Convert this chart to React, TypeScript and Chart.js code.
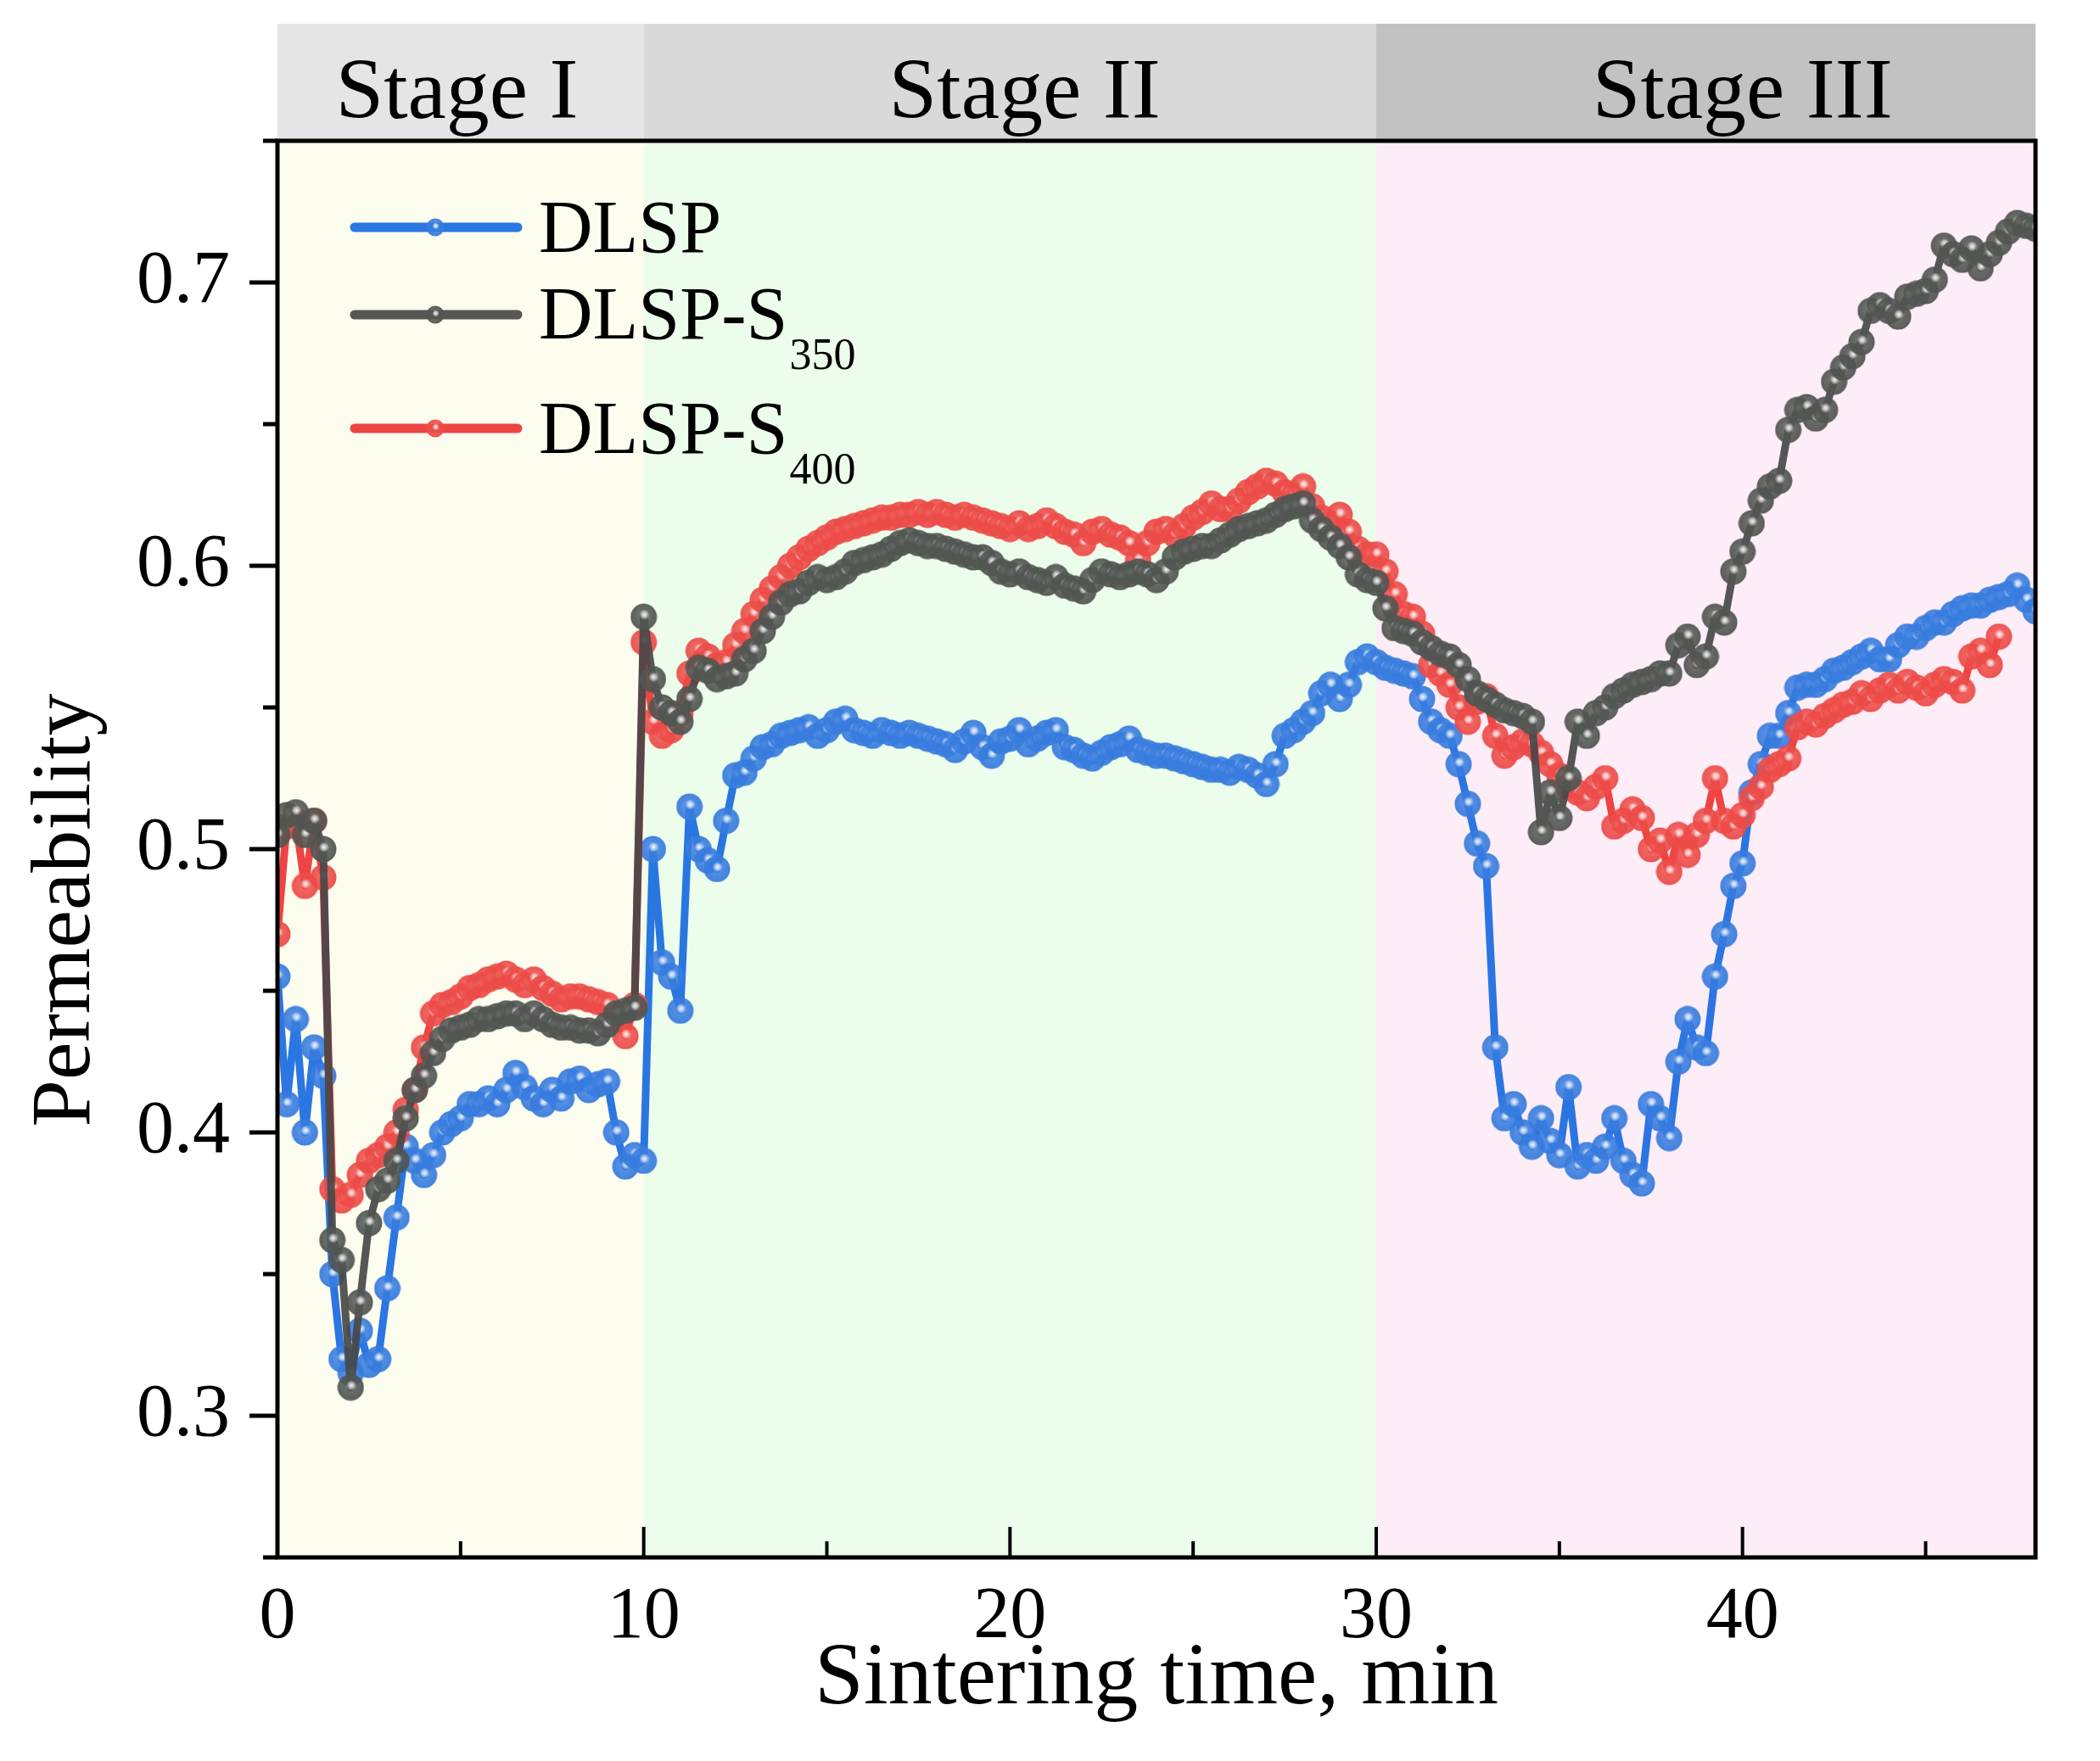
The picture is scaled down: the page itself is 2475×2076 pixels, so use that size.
import { useEffect, useRef } from 'react';
import { Chart, registerables } from 'chart.js';

Chart.register(...registerables);

// sampling times, min
const times = [
  0, 0.25, 0.5, 0.75, 1, 1.25, 1.5, 1.75, 2, 2.25, 2.5, 2.75,
  3, 3.25, 3.5, 3.75, 4, 4.25, 4.5, 4.75, 5, 5.25, 5.5, 5.75,
  6, 6.25, 6.5, 6.75, 7, 7.25, 7.5, 7.75, 8, 8.25, 8.5, 8.75,
  9, 9.25, 9.5, 9.75, 10, 10.25, 10.5, 10.75, 11, 11.25, 11.5, 11.75,
  12, 12.25, 12.5, 12.75, 13, 13.25, 13.5, 13.75, 14, 14.25, 14.5, 14.75,
  15, 15.25, 15.5, 15.75, 16, 16.25, 16.5, 16.75, 17, 17.25, 17.5, 17.75,
  18, 18.25, 18.5, 18.75, 19, 19.25, 19.5, 19.75, 20, 20.25, 20.5, 20.75,
  21, 21.25, 21.5, 21.75, 22, 22.25, 22.5, 22.75, 23, 23.25, 23.5, 23.75,
  24, 24.25, 24.5, 24.75, 25, 25.25, 25.5, 25.75, 26, 26.25, 26.5, 26.75,
  27, 27.25, 27.5, 27.75, 28, 28.25, 28.5, 28.75, 29, 29.25, 29.5, 29.75,
  30, 30.25, 30.5, 30.75, 31, 31.25, 31.5, 31.75, 32, 32.25, 32.5, 32.75,
  33, 33.25, 33.5, 33.75, 34, 34.25, 34.5, 34.75, 35, 35.25, 35.5, 35.75,
  36, 36.25, 36.5, 36.75, 37, 37.25, 37.5, 37.75, 38, 38.25, 38.5, 38.75,
  39, 39.25, 39.5, 39.75, 40, 40.25, 40.5, 40.75, 41, 41.25, 41.5, 41.75,
  42, 42.25, 42.5, 42.75, 43, 43.25, 43.5, 43.75, 44, 44.25, 44.5, 44.75,
  45, 45.25, 45.5, 45.75, 46, 46.25, 46.5, 46.75, 47, 47.25, 47.5, 47.75,
  48,
];

const dlsp = [
  0.455, 0.41, 0.44, 0.4, 0.43, 0.42, 0.35, 0.32, 0.315, 0.33, 0.318, 0.32,
  0.345, 0.37, 0.395, 0.39, 0.385, 0.392, 0.4, 0.403, 0.405, 0.41, 0.41, 0.412,
  0.41, 0.415, 0.421, 0.416, 0.412, 0.41, 0.415, 0.412, 0.418, 0.419, 0.415, 0.417,
  0.418, 0.4, 0.388, 0.392, 0.39, 0.5, 0.46, 0.455, 0.443, 0.515, 0.5, 0.496,
  0.493, 0.51, 0.526, 0.527, 0.532, 0.536, 0.537, 0.54, 0.541, 0.542, 0.543, 0.54,
  0.542, 0.545, 0.546, 0.542, 0.541, 0.54, 0.542, 0.541, 0.54, 0.541, 0.54, 0.539,
  0.538, 0.537, 0.535, 0.538, 0.541, 0.536, 0.533, 0.538, 0.539, 0.542, 0.537, 0.539,
  0.541, 0.542, 0.536, 0.535, 0.533, 0.532, 0.534, 0.536, 0.537, 0.539, 0.535, 0.534,
  0.533, 0.533, 0.532, 0.531, 0.53, 0.529, 0.528, 0.528, 0.527, 0.529, 0.528, 0.526,
  0.523, 0.53, 0.54, 0.542, 0.545, 0.548, 0.555, 0.558, 0.553, 0.558, 0.566, 0.568,
  0.566, 0.564, 0.563, 0.562, 0.561, 0.553, 0.545, 0.542, 0.54, 0.53, 0.516, 0.502,
  0.494, 0.43, 0.405, 0.41, 0.4, 0.395, 0.405, 0.397, 0.392, 0.416, 0.388, 0.392,
  0.39, 0.395, 0.405, 0.39, 0.385, 0.382, 0.41, 0.405, 0.398, 0.425, 0.44, 0.43,
  0.428, 0.455, 0.47, 0.487, 0.495, 0.52, 0.53, 0.54, 0.54, 0.548, 0.557, 0.558,
  0.558, 0.56, 0.563, 0.564, 0.566, 0.568, 0.57, 0.567, 0.567, 0.572, 0.575, 0.575,
  0.578, 0.58, 0.58, 0.583, 0.585, 0.586, 0.586, 0.588, 0.589, 0.59, 0.593, 0.588,
  0.584,
];

const dlspS350 = [
  0.505, 0.512, 0.513, 0.505, 0.51, 0.5, 0.362, 0.355, 0.31, 0.34, 0.368, 0.38,
  0.383, 0.39, 0.405, 0.415, 0.42, 0.428, 0.433, 0.436, 0.437, 0.438, 0.44, 0.44,
  0.441, 0.442, 0.442, 0.44, 0.442, 0.44, 0.438, 0.437, 0.437, 0.436, 0.436, 0.435,
  0.438, 0.442, 0.443, 0.444, 0.582, 0.56, 0.55, 0.548, 0.545, 0.553, 0.564, 0.563,
  0.56, 0.561, 0.562, 0.567, 0.57, 0.577, 0.582, 0.587, 0.59, 0.591, 0.594, 0.596,
  0.595, 0.596, 0.598, 0.601, 0.602, 0.603, 0.604, 0.606, 0.608, 0.609, 0.608, 0.607,
  0.607, 0.606, 0.605, 0.604, 0.603, 0.603, 0.601, 0.598, 0.597, 0.598, 0.596, 0.595,
  0.594, 0.596, 0.593, 0.592, 0.591, 0.595, 0.598, 0.597, 0.596, 0.597, 0.598, 0.597,
  0.595, 0.598, 0.603, 0.605, 0.606, 0.607, 0.607, 0.609, 0.611, 0.613, 0.614, 0.615,
  0.616, 0.618, 0.62, 0.621, 0.622, 0.616, 0.613, 0.61, 0.607, 0.603, 0.597, 0.595,
  0.594, 0.585, 0.578, 0.577, 0.576, 0.573, 0.571, 0.569, 0.568, 0.565, 0.56, 0.555,
  0.553, 0.551, 0.549, 0.548, 0.547, 0.545, 0.506, 0.52, 0.511, 0.525, 0.545, 0.54,
  0.548, 0.55, 0.554, 0.556, 0.558, 0.559, 0.56, 0.562, 0.562, 0.572, 0.575, 0.565,
  0.568, 0.582, 0.58, 0.598, 0.605, 0.615, 0.623, 0.628, 0.63, 0.648, 0.655, 0.656,
  0.652, 0.655, 0.665, 0.67, 0.674, 0.679, 0.69, 0.692, 0.69, 0.688, 0.695, 0.696,
  0.697, 0.701, 0.713, 0.71, 0.708, 0.712, 0.705, 0.71, 0.714, 0.718, 0.721, 0.72,
  0.719,
];

const dlspS400 = [
  0.47, 0.508, 0.51, 0.487, 0.51, 0.49, 0.38, 0.376, 0.378, 0.385, 0.39, 0.392,
  0.395, 0.4, 0.408, 0.415, 0.43, 0.442, 0.445, 0.446, 0.448, 0.451, 0.452, 0.454,
  0.455, 0.456, 0.454, 0.452, 0.454, 0.451, 0.449, 0.447, 0.448, 0.448, 0.447, 0.446,
  0.445, 0.44, 0.434, 0.445, 0.573, 0.545, 0.54, 0.542, 0.548, 0.562, 0.57, 0.568,
  0.565, 0.566, 0.572, 0.577, 0.583, 0.588, 0.592, 0.596, 0.6, 0.603, 0.606, 0.608,
  0.61, 0.612, 0.613, 0.614, 0.615, 0.616, 0.617, 0.617, 0.618, 0.618, 0.619, 0.618,
  0.619, 0.618, 0.617, 0.618, 0.617, 0.616, 0.615, 0.614, 0.613, 0.615, 0.613, 0.614,
  0.616, 0.614, 0.612, 0.611, 0.608, 0.612, 0.613, 0.611, 0.61, 0.608, 0.602, 0.608,
  0.612, 0.613, 0.611, 0.614, 0.617, 0.619, 0.622, 0.62, 0.62, 0.623, 0.626, 0.628,
  0.63, 0.629, 0.626, 0.625, 0.628, 0.621, 0.617, 0.615, 0.618, 0.612, 0.606, 0.604,
  0.604, 0.598, 0.59, 0.583, 0.582, 0.576, 0.565, 0.562, 0.558, 0.55, 0.545, 0.552,
  0.554, 0.54, 0.533, 0.536, 0.538, 0.537, 0.534, 0.53, 0.526, 0.522, 0.52, 0.518,
  0.522, 0.525, 0.508, 0.51, 0.514, 0.511, 0.5, 0.503, 0.492, 0.505, 0.498, 0.505,
  0.51, 0.525, 0.51, 0.508, 0.512, 0.518, 0.522, 0.528, 0.53, 0.532, 0.543, 0.545,
  0.544, 0.547, 0.549, 0.551, 0.552, 0.555, 0.553, 0.556, 0.558, 0.556, 0.559, 0.557,
  0.555, 0.558, 0.56, 0.559, 0.556, 0.568, 0.57, 0.565, 0.575,
];

const stageBounds = [0, 10, 30, 48];
const stageNames = ['Stage I', 'Stage II', 'Stage III'];
const stageLabelAt = [4.9, 20.4, 40.0];

const legendNames = ['DLSP', 'DLSP-S', 'DLSP-S'];
const legendSubs = ['', '350', '400'];

const SERIF = '"Liberation Serif", "Times New Roman", serif';
const headerFills = ['#e5e5e5', '#d9d9d9', '#c2c2c2'];
const plotFills = ['#fcfcef', '#ecfdeb', '#fdedf7'];
const lineColors = ['rgba(31,111,224,0.95)', 'rgba(72,72,72,0.92)', 'rgba(238,58,58,0.95)'];
const markerColors = ['56,124,222', '82,86,82', '236,76,72'];

// glossy bead used as point style
function makeSphere(rgb: string, size: number) {
  const c = document.createElement('canvas');
  c.width = size;
  c.height = size;
  const g = c.getContext('2d')!;
  const r = size / 2;
  const body = g.createRadialGradient(r * 0.9, r * 0.8, 0, r, r, r);
  body.addColorStop(0, `rgba(${rgb},0.8)`);
  body.addColorStop(0.8, `rgba(${rgb},0.92)`);
  body.addColorStop(1, `rgba(${rgb},0.97)`);
  g.fillStyle = body;
  g.beginPath();
  g.arc(r, r, r - 0.5, 0, Math.PI * 2);
  g.fill();
  const hi = g.createRadialGradient(r * 1.05, r * 0.85, 0, r * 1.05, r * 0.85, r * 0.38);
  hi.addColorStop(0, 'rgba(255,255,255,0.95)');
  hi.addColorStop(0.5, 'rgba(255,255,255,0.6)');
  hi.addColorStop(1, 'rgba(255,255,255,0)');
  g.fillStyle = hi;
  g.beginPath();
  g.arc(r, r, r - 0.5, 0, Math.PI * 2);
  g.fill();
  return c;
}

function toPoints(values: number[]) {
  return values.map((v, i) => ({ x: times[i], y: v }));
}

export default function App() {
  const chartRef = useRef<HTMLCanvasElement | null>(null);

  useEffect(() => {
    document.body.style.margin = '0';
    if (!chartRef.current) return;
    const ctx = chartRef.current.getContext('2d');
    if (!ctx) return;

    const spheres = markerColors.map((c) => makeSphere(c, 32));
    const legendSpheres = markerColors.map((c) => makeSphere(c, 22));

    const decor = {
      id: 'decor',
      beforeDatasetsDraw(chart: any) {
        const { ctx: g, chartArea: a, scales } = chart;
        const x = scales.x;
        g.save();
        for (let i = 0; i < 3; i++) {
          const x0 = x.getPixelForValue(stageBounds[i]);
          const x1 = x.getPixelForValue(stageBounds[i + 1]);
          g.fillStyle = plotFills[i];
          g.fillRect(x0, a.top, x1 - x0, a.bottom - a.top);
          g.fillStyle = headerFills[i];
          g.fillRect(x0, 28, x1 - x0, a.top - 28);
        }
        g.fillStyle = '#000';
        g.font = `102px ${SERIF}`;
        g.textAlign = 'center';
        g.textBaseline = 'alphabetic';
        stageNames.forEach((name, i) => {
          g.fillText(name, x.getPixelForValue(stageLabelAt[i]), 139);
        });
        g.restore();
      },
      afterDatasetsDraw(chart: any) {
        const { ctx: g, chartArea: a, scales } = chart;
        const x = scales.x;
        const y = scales.y;
        g.save();
        // frame
        g.strokeStyle = '#000';
        g.lineWidth = 5;
        g.strokeRect(a.left, a.top, a.right - a.left, a.bottom - a.top);
        // y ticks, outward
        y.ticks.forEach((t: any) => {
          const py = y.getPixelForValue(t.value);
          const major = Math.round(t.value * 100) % 10 === 0;
          g.beginPath();
          g.moveTo(a.left, py);
          g.lineTo(a.left - (major ? 33 : 17), py);
          g.stroke();
        });
        // x ticks, inward
        g.lineWidth = 4;
        x.ticks.forEach((t: any) => {
          const px = x.getPixelForValue(t.value);
          const major = Math.round(t.value) % 10 === 0;
          g.beginPath();
          g.moveTo(px, a.bottom);
          g.lineTo(px, a.bottom - (major ? 36 : 19));
          g.stroke();
        });
        // axis titles
        g.fillStyle = '#000';
        g.font = `104px ${SERIF}`;
        g.textAlign = 'center';
        g.textBaseline = 'alphabetic';
        g.fillText('Sintering time, min', (a.left + a.right) / 2, 2008);
        g.save();
        g.translate(105, 1073);
        g.rotate(-Math.PI / 2);
        g.font = `100px ${SERIF}`;
        g.fillText('Permeability', 0, 0);
        g.restore();
        // legend
        const rows = [268, 371, 505];
        const baselines = [297, 399, 534];
        rows.forEach((ry, i) => {
          g.strokeStyle = lineColors[i];
          g.lineWidth = 11;
          g.lineCap = 'round';
          g.beginPath();
          g.moveTo(418, ry);
          g.lineTo(610, ry);
          g.stroke();
          const s = legendSpheres[i];
          g.drawImage(s, 513 - s.width / 2, ry - s.height / 2);
          g.textAlign = 'left';
          g.font = `88px ${SERIF}`;
          g.fillText(legendNames[i], 635, baselines[i]);
          if (legendSubs[i]) {
            const w = g.measureText(legendNames[i]).width;
            g.font = `52px ${SERIF}`;
            g.fillText(legendSubs[i], 635 + w + 2, baselines[i] + 36);
          }
        });
        g.restore();
      },
    };

    const common = {
      borderWidth: 9,
      borderJoinStyle: 'round' as const,
      borderCapStyle: 'round' as const,
      pointRadius: 16,
    };

    const chartInstance = new Chart(ctx, {
      type: 'line',
      data: {
        datasets: [
          { label: 'DLSP-S350', data: toPoints(dlspS350), borderColor: lineColors[1], pointStyle: spheres[1], ...common },
          { label: 'DLSP-S400', data: toPoints(dlspS400), borderColor: lineColors[2], pointStyle: spheres[2], ...common },
          { label: 'DLSP', data: toPoints(dlsp), borderColor: lineColors[0], pointStyle: spheres[0], ...common },
        ],
      },
      options: {
        responsive: false,
        devicePixelRatio: 1,
        animation: false,
        layout: { padding: { top: 166, right: 76, left: 0, bottom: 0 } },
        plugins: {
          legend: { display: false },
          tooltip: { enabled: false },
        },
        scales: {
          x: {
            type: 'linear',
            min: 0,
            max: 48,
            grid: { display: false },
            border: { display: false },
            ticks: {
              stepSize: 5,
              includeBounds: false,
              autoSkip: false,
              maxRotation: 0,
              padding: 12,
              color: '#000',
              font: { family: SERIF, size: 86 },
              callback: (v: any) => (Math.round(v) % 10 === 0 ? String(v) : ''),
            },
            afterFit: (scale: any) => {
              scale.height = 240;
            },
          },
          y: {
            type: 'linear',
            min: 0.25,
            max: 0.75,
            grid: { display: false },
            border: { display: false },
            ticks: {
              stepSize: 0.05,
              autoSkip: false,
              padding: 48,
              color: '#000',
              font: { family: SERIF, size: 88 },
              callback: (v: any) => (Math.round(v * 100) % 10 === 0 ? Number(v).toFixed(1) : ''),
            },
            afterFit: (scale: any) => {
              scale.width = 327;
            },
          },
        },
      },
      plugins: [decor],
    });

    return () => chartInstance.destroy();
  }, []);

  return (
    <div style={{ width: 2475, height: 2076, background: '#fff' }}>
      <canvas ref={chartRef} width={2475} height={2076} style={{ display: 'block' }}></canvas>
    </div>
  );
}
